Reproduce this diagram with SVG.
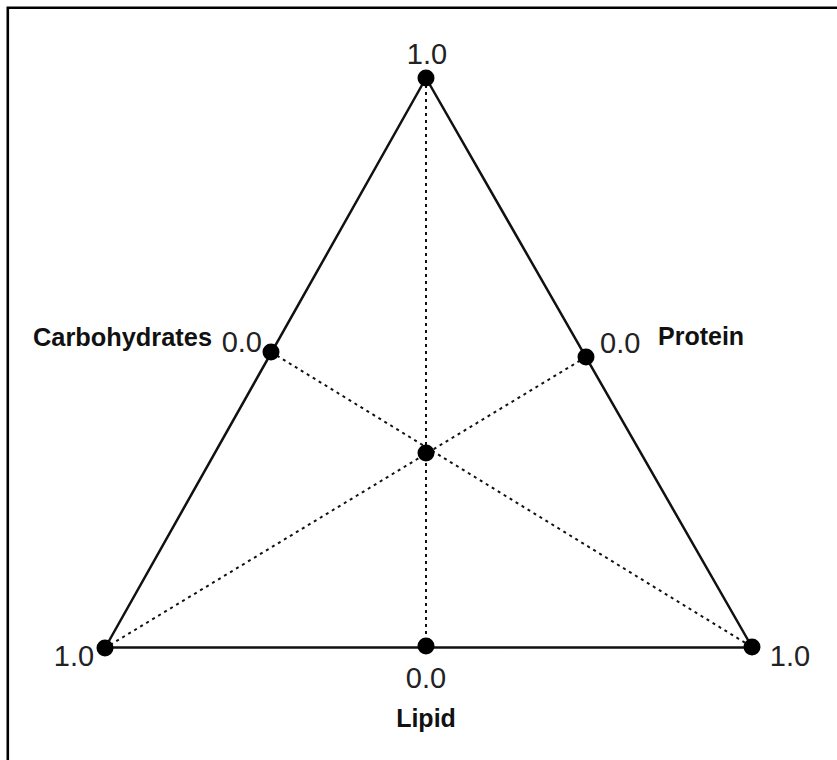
<svg xmlns="http://www.w3.org/2000/svg" width="837" height="760" viewBox="0 0 837 760">
<style>
.num{font-family:"Liberation Sans",Arial,sans-serif;font-size:29px;fill:#222}
.lab{font-family:"Liberation Sans",Arial,sans-serif;font-size:25px;font-weight:bold;fill:#111}
.edge{stroke:#111;stroke-width:2.5;fill:none;stroke-linecap:round}
.dot{stroke:#111;stroke-width:2;fill:none;stroke-dasharray:3 4}
.pt{fill:#000}
</style>
<rect width="837" height="760" fill="#fff"/>
<path d="M7.8 760 V7.8 H837" fill="none" stroke="#000" stroke-width="2.6"/>
<g id="connectors">
<line class="edge" x1="426" y1="78" x2="105" y2="648"/>
<line class="edge" x1="426" y1="78" x2="752" y2="647"/>
<line class="edge" x1="105" y1="647.5" x2="752" y2="647.5" stroke="#333" stroke-width="3"/>
<line class="dot" x1="426" y1="78" x2="426" y2="646"/>
<line class="dot" x1="271" y1="352" x2="752" y2="647"/>
<line class="dot" x1="586" y1="357" x2="105" y2="648"/>
</g>
<g id="node-top"><circle class="pt" cx="426" cy="78" r="8.5"/><text class="num" x="427" y="64" text-anchor="middle">1.0</text></g>
<g id="node-left"><circle class="pt" cx="105" cy="648" r="8.5"/><text class="num" x="74" y="666" text-anchor="middle">1.0</text></g>
<g id="node-right"><circle class="pt" cx="752" cy="647" r="8.5"/><text class="num" x="790" y="666" text-anchor="middle">1.0</text></g>
<g id="node-carb"><circle class="pt" cx="271" cy="352" r="8.5"/><text class="num" x="262" y="352" text-anchor="end">0.0</text><text class="lab" x="212" y="346" text-anchor="end" textLength="179" lengthAdjust="spacingAndGlyphs">Carbohydrates</text></g>
<g id="node-protein"><circle class="pt" cx="586" cy="357" r="8.5"/><text class="num" x="600" y="353">0.0</text><text class="lab" x="658" y="345">Protein</text></g>
<g id="node-lipid"><circle class="pt" cx="426" cy="646" r="8.5"/><text class="num" x="426" y="688" text-anchor="middle">0.0</text><text class="lab" x="426" y="727" text-anchor="middle">Lipid</text></g>
<g id="node-center"><circle class="pt" cx="426" cy="453" r="8.5"/></g>
</svg>
